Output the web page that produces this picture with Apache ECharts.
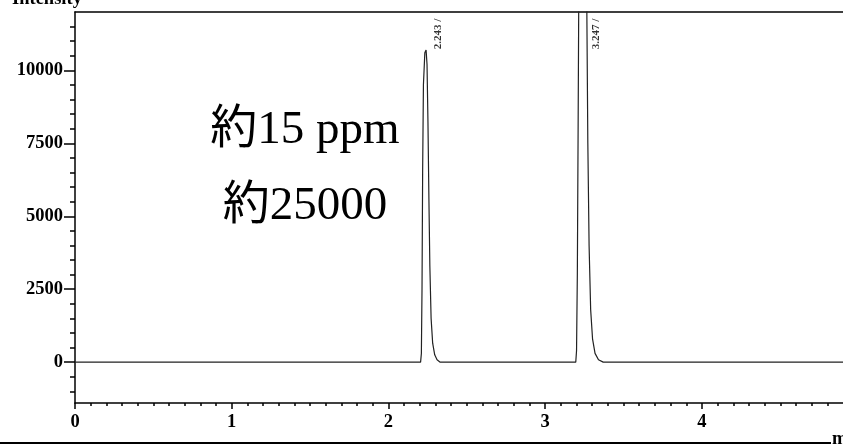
<!DOCTYPE html>
<html>
<head>
<meta charset="utf-8">
<title>chromatogram</title>
<script src="https://cdn.jsdelivr.net/npm/echarts@6/dist/echarts.min.js"></script>
<style>
  html, body { margin: 0; padding: 0; background: #fff; }
  #chart { width: 843px; height: 445px; }
</style>
</head>
<body>
<div id="chart"></div>
<script>
// retention time (min) and detector signal
const times = [0, 2.205, 2.210, 2.214, 2.218, 2.223, 2.232, 2.240, 2.246, 2.252, 2.258, 2.264, 2.272, 2.282, 2.295, 2.310, 2.330,
  3.195, 3.200, 3.205, 3.210, 3.215, 3.225, 3.240, 3.250, 3.258, 3.265, 3.272, 3.280, 3.290, 3.302, 3.318, 3.340, 3.370, 4.9]
const intensity = [0, 0, 300, 2500, 6500, 9500, 10600, 10700, 10200, 8200, 5600, 3300, 1500, 650, 250, 80, 0,
  0, 400, 3000, 8000, 13500, 21000, 24800, 24500, 19000, 12500, 7500, 4000, 1800, 800, 300, 80, 0, 0]

// peak retention-time markers
const peakTimes = [2.243, 3.247]
const peakNames = ['2.243 /', '3.247 /']

// axis ticks
const xLabels = [0, 1, 2, 3, 4]
const xMinorTicks = [0.1, 0.2, 0.3, 0.4, 0.5, 0.6, 0.7, 0.8, 0.9, 1.1, 1.2, 1.3, 1.4, 1.5, 1.6, 1.7, 1.8, 1.9,
  2.1, 2.2, 2.3, 2.4, 2.5, 2.6, 2.7, 2.8, 2.9, 3.1, 3.2, 3.3, 3.4, 3.5, 3.6, 3.7, 3.8, 3.9, 4.1, 4.2, 4.3, 4.4, 4.5, 4.6, 4.7, 4.8]
const yLabels = [0, 2500, 5000, 7500, 10000]
const yMinorTicks = [-1000, -500, 500, 1000, 1500, 2000, 3000, 3500, 4000, 4500, 5500, 6000, 6500, 7000,
  8000, 8500, 9000, 9500, 10500, 11000, 11500]

const serif = '"Liberation Serif", "DejaVu Serif", serif'
const labelFont = { color: '#000', fontFamily: serif, fontWeight: 'bold', fontSize: 18.5 }

const chart = echarts.init(document.getElementById('chart'), null, { renderer: 'canvas' })

const trace = times.map((t, i) => [t, intensity[i]])
const markers = peakTimes.map((t, i) => ({ value: [t, 11250], name: peakNames[i] }))

const option = {
  backgroundColor: '#fff',
  animation: false,
  grid: { left: 75, right: 0, top: 12, bottom: 42 },
  xAxis: [
    {
      type: 'value', min: 0, max: 4.9, position: 'bottom',
      axisLine: { show: true, onZero: false, lineStyle: { color: '#000', width: 1.5 } },
      axisTick: { show: true, customValues: xLabels, length: 6, lineStyle: { color: '#000', width: 1.5 } },
      axisLabel: { ...labelFont, customValues: xLabels, margin: 10 },
      splitLine: { show: false }
    },
    {
      type: 'value', min: 0, max: 4.9, position: 'bottom',
      axisLine: { show: false, onZero: false },
      axisTick: { show: true, customValues: xMinorTicks, length: 3, lineStyle: { color: '#000', width: 1.5 } },
      axisLabel: { show: false },
      splitLine: { show: false }
    },
    {
      // top frame line
      type: 'value', min: 0, max: 4.9, position: 'top',
      axisLine: { show: true, onZero: false, lineStyle: { color: '#000', width: 1.5 } },
      axisTick: { show: false },
      axisLabel: { show: false },
      splitLine: { show: false }
    }
  ],
  yAxis: [
    {
      type: 'value', min: -1400, max: 12000, position: 'left',
      axisLine: { show: true, onZero: false, lineStyle: { color: '#000', width: 1.5 } },
      axisTick: { show: true, customValues: yLabels, length: 11, lineStyle: { color: '#000', width: 1.5 } },
      axisLabel: { ...labelFont, customValues: yLabels, margin: 12, formatter: (v) => String(v) },
      splitLine: { show: false }
    },
    {
      type: 'value', min: -1400, max: 12000, position: 'left',
      axisLine: { show: false, onZero: false },
      axisTick: { show: true, customValues: yMinorTicks, length: 5, lineStyle: { color: '#000', width: 1.5 } },
      axisLabel: { show: false },
      splitLine: { show: false }
    }
  ],
  series: [
    {
      name: 'signal',
      type: 'line',
      xAxisIndex: 0,
      yAxisIndex: 0,
      data: trace,
      symbol: 'none',
      clip: true,
      lineStyle: { color: '#222', width: 1.2 }
    },
    {
      name: 'peaks',
      type: 'scatter',
      xAxisIndex: 0,
      yAxisIndex: 0,
      data: markers,
      symbolSize: 0,
      label: {
        show: true,
        formatter: (p) => p.name,
        position: 'right',
        distance: 12,
        rotate: 90,
        align: 'center',
        verticalAlign: 'middle',
        color: '#000',
        fontFamily: serif,
        fontWeight: 'bold',
        fontSize: 11
      }
    }
  ],
  graphic: [
    {
      type: 'text', left: 12, top: -10,
      style: { text: 'Intensity', ...labelFont, fill: '#000' }
    },
    {
      type: 'text', x: 305, y: 131,
      style: { text: '約15 ppm', fill: '#000', font: '47px "Liberation Serif", "Noto Sans CJK JP", serif', align: 'center', verticalAlign: 'middle' }
    },
    {
      type: 'text', x: 305, y: 207,
      style: { text: '約25000', fill: '#000', font: '47px "Liberation Serif", "Noto Sans CJK JP", serif', align: 'center', verticalAlign: 'middle' }
    },
    {
      type: 'line',
      shape: { x1: 0, y1: 443, x2: 831, y2: 443 },
      style: { stroke: '#000', lineWidth: 2 }
    },
    {
      type: 'text', x: 832, y: 449,
      style: { text: 'min', ...labelFont, fill: '#000', verticalAlign: 'bottom' }
    }
  ]
}

chart.setOption(option)
</script>
</body>
</html>
